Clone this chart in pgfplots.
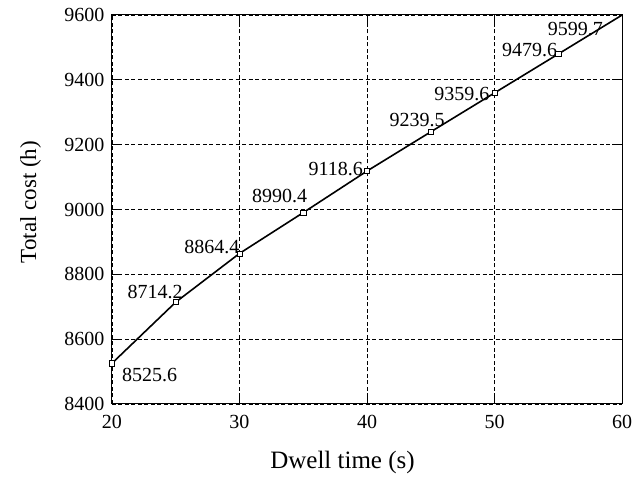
\documentclass[border=0pt]{standalone}
\usepackage{pgfplots}
\pgfplotsset{compat=1.18}
\usepackage{fontspec}
\setmainfont{Liberation Serif}
\begin{document}
\begin{tikzpicture}
\begin{axis}[
  scale only axis, width=510pt, height=389pt,
  xmin=20, xmax=60, ymin=8400, ymax=9600,
  xtick={20,30,...,60}, ytick={8400,8600,...,9600},
  grid=major, grid style={black, line width=0.7pt, dash pattern=on 4pt off 2.5pt},
  tick align=inside, major tick length=10pt,
  axis line style={black, line width=1pt},
  tick style={black, line width=1pt},
  ticklabel style={font=\fontsize{20}{23}\selectfont},
  yticklabel style={xshift=-4pt},
  xticklabel style={yshift=-8pt},
  /pgf/number format/assume math mode=true,
  /pgf/number format/1000 sep={},
  xlabel={Dwell time (s)}, ylabel={Total cost (h)},
  every axis x label/.style={at={(axis description cs:0.452,-0.167)}, anchor=base, font=\fontsize{25}{29}\selectfont},
  every axis y label/.style={at={(axis description cs:-0.149,0.519)}, anchor=base, rotate=90, font=\fontsize{23}{27}\selectfont},
]
\addplot[black, line width=1.6pt, mark=square*, mark size=2.6pt,
  mark options={fill=white, line width=0.6pt}, mark indices={1,...,8}]
  coordinates {(20,8525.6) (25,8714.2) (30,8864.4) (35,8990.4) (40,9118.6)
               (45,9239.5) (50,9359.6) (55,9479.6) (60,9599.7)};
\begin{scope}[every node/.style={font=\fontsize{20}{24}\selectfont, inner sep=0pt}]
\node[anchor=base west, xshift=10pt, yshift=-18pt] at (axis cs:20,8525.6) {8525.6};
\node[anchor=base east, xshift=7pt, yshift=4pt] at (axis cs:25,8714.2) {8714.2};
\node[anchor=base east, xshift=0pt, yshift=0pt] at (axis cs:30,8864.4) {8864.4};
\node[anchor=base east, xshift=4pt, yshift=10pt] at (axis cs:35,8990.4) {8990.4};
\node[anchor=base east, xshift=-4pt, yshift=-4pt] at (axis cs:40,9118.6) {9118.6};
\node[anchor=base east, xshift=14pt, yshift=5pt] at (axis cs:45,9239.5) {9239.5};
\node[anchor=base east, xshift=-5pt, yshift=-8pt] at (axis cs:50,9359.6) {9359.6};
\node[anchor=base east, xshift=-1pt, yshift=-2pt] at (axis cs:55,9479.6) {9479.6};
\node[anchor=base east, xshift=-19pt, yshift=-20pt] at (axis cs:60,9599.7) {9599.7};
\end{scope}
\end{axis}
\path ([xshift=-112pt,yshift=-71pt]current axis.south west) rectangle ([xshift=21pt,yshift=15pt]current axis.north east);
\end{tikzpicture}
\end{document}
